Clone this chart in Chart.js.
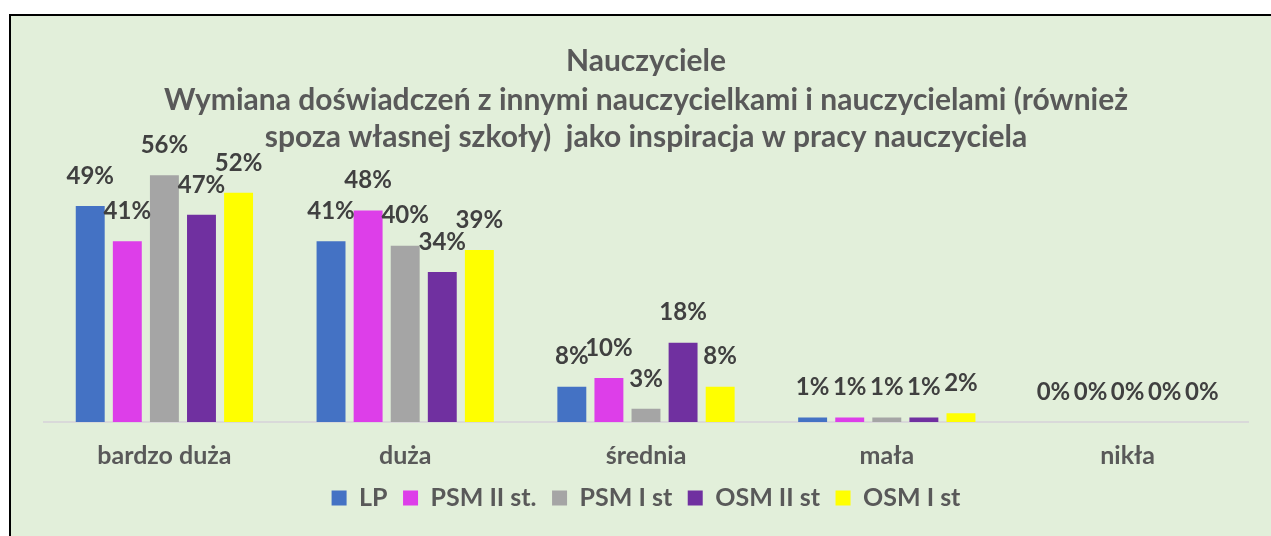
<!DOCTYPE html>
<html>
<head>
<meta charset="utf-8">
<script src="https://cdn.jsdelivr.net/npm/chart.js@4.4.1/dist/chart.umd.min.js"></script>
<style>
  html, body { margin: 0; padding: 0; background: #ffffff; width: 1271px; height: 536px; overflow: hidden; }
  #box { position: absolute; left: 9px; top: 14px; width: 1262px; height: 522px; box-sizing: border-box;
         background: #e2efda; border-top: 2px solid #000; border-left: 2px solid #000; }
  #wrap { position: absolute; left: 0; top: 0; width: 1271px; height: 536px; }
</style>
</head>
<body>
<div id="box"></div>
<div id="wrap"><canvas id="c" width="1271" height="536"></canvas></div>
<script>
const categories = ["bardzo duża", "duża", "średnia", "mała", "nikła"];
const seriesNames = ["LP", "PSM II st.", "PSM I st", "OSM II st", "OSM I st"];
const LP      = [49, 41, 8, 1, 0];
const PSM_II  = [41, 48, 10, 1, 0];
const PSM_I   = [56, 40, 3, 1, 0];
const OSM_II  = [47, 34, 18, 1, 0];
const OSM_I   = [52, 39, 8, 2, 0];
const seriesColors = ["#4472c4", "#dd3ee9", "#a5a5a5", "#7030a0", "#ffff00"];
const titleText = "Nauczyciele";
const subtitleLines = [
  "Wymiana doświadczeń z innymi nauczycielkami i nauczycielami (również",
  "spoza własnej szkoły)  jako inspiracja w pracy nauczyciela"];

const seriesValues = [LP, PSM_II, PSM_I, OSM_II, OSM_I];

const labelPlugin = {
  id: 'valueLabels',
  afterDatasetsDraw(chart) {
    const ctx = chart.ctx;
    ctx.save();
    ctx.font = 'bold 24px Lato';
    ctx.fillStyle = '#404040';
    ctx.textAlign = 'center';
    ctx.textBaseline = 'middle';
    chart.data.datasets.forEach((ds, di) => {
      const meta = chart.getDatasetMeta(di);
      meta.data.forEach((bar, i) => {
        ctx.fillText(ds.data[i] + '%', bar.x, bar.y - 30);
      });
    });
    ctx.restore();
  }
};

new Chart(document.getElementById('c'), {
  type: 'bar',
  data: {
    labels: categories,
    datasets: seriesNames.map((n, i) => ({
      label: n,
      data: seriesValues[i],
      backgroundColor: seriesColors[i],
      borderWidth: 0,
      barPercentage: 0.78,
      categoryPercentage: 0.77
    }))
  },
  options: {
    responsive: false,
    animation: false,
    devicePixelRatio: 1,
    layout: { padding: { left: 44, right: 23, top: 0, bottom: 15.5 } },
    plugins: {
      title: {
        display: true,
        text: titleText,
        color: '#595959',
        font: { family: 'Lato', size: 30, weight: 'bold', lineHeight: 1.317 },
        padding: { top: 42, bottom: 0 }
      },
      subtitle: {
        display: true,
        text: subtitleLines,
        color: '#595959',
        font: { family: 'Lato', size: 30, weight: 'bold', lineHeight: 1.25 },
        padding: { top: 0, bottom: 1 }
      },
      legend: {
        position: 'bottom',
        labels: {
          color: '#595959',
          font: { family: 'Lato', size: 25, weight: 'bold' },
          boxWidth: 15, boxHeight: 15, padding: 15.5
        }
      },
      tooltip: { enabled: false }
    },
    scales: {
      x: {
        grid: { display: false, drawTicks: false },
        border: { display: true, color: '#d9d9d9', width: 2 },
        ticks: { color: '#595959', font: { family: 'Lato', size: 25, weight: 'bold' }, padding: 19 },
        afterFit(scale) { scale.height = 48; }
      },
      y: {
        display: false,
        min: 0, max: 60
      }
    }
  },
  plugins: [labelPlugin]
});
</script>
</body>
</html>
